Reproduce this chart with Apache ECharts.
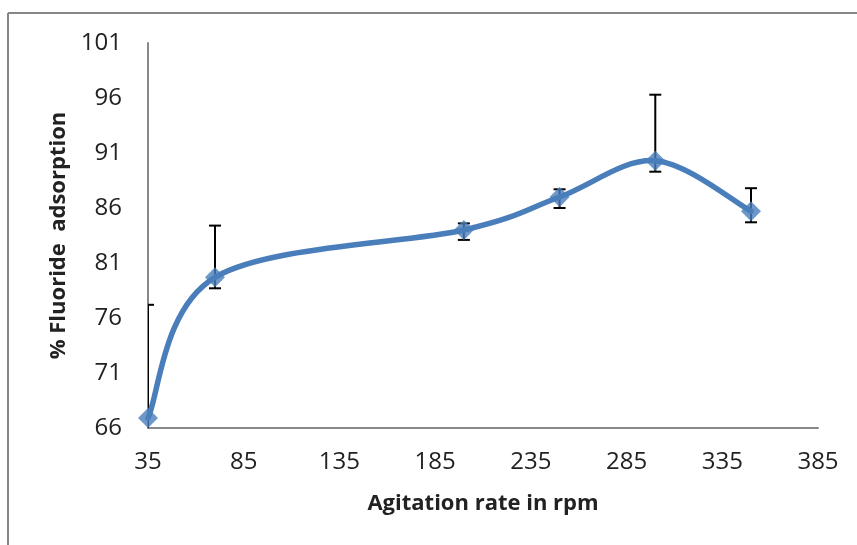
<!DOCTYPE html>
<html>
<head>
<meta charset="utf-8">
<script src="https://cdn.jsdelivr.net/npm/echarts@6/dist/echarts.min.js"></script>
<style>
html,body{margin:0;padding:0;background:#fff;}
#chart{width:857px;height:545px;}
</style>
</head>
<body>
<div id="chart"></div>
<script>
var rpm = [35, 70, 200, 250, 300, 350];
var adsorption = [66.9, 79.7, 84.0, 87.0, 90.3, 85.7];
var errUpper = [77.2, 84.4, 84.6, 87.7, 96.3, 87.8];
var errLower = [56.8, 78.7, 83.1, 86.0, 89.3, 84.7];
var xTicks = [35, 85, 135, 185, 235, 285, 335, 385];
var yTicks = [66, 71, 76, 81, 86, 91, 96, 101];

var FONT = '"Open Sans", "Noto Sans", sans-serif';
var BLUE = '#4a7ebb';
var chart = echarts.init(document.getElementById('chart'));

var errData = rpm.map(function (x, i) { return [x, errLower[i], errUpper[i]]; });
var pointData = rpm.map(function (x, i) { return [x, adsorption[i]]; });

// Smooth curve (Catmull-Rom style Bezier, like spreadsheet "smoothed line"),
// points projected through the chart's own axes via api.coord.
function renderCurve(params, api) {
  if (params.dataIndex !== 0) return null;
  var pts = rpm.map(function (x, i) { return api.coord([x, adsorption[i]]); });
  var n = pts.length;
  var path = 'M' + pts[0][0] + ' ' + pts[0][1];
  for (var i = 0; i < n - 1; i++) {
    var p0 = pts[Math.max(i - 1, 0)];
    var p1 = pts[i];
    var p2 = pts[i + 1];
    var p3 = pts[Math.min(i + 2, n - 1)];
    var c1x = p1[0] + (p2[0] - p0[0]) / 6;
    var c1y = p1[1] + (p2[1] - p0[1]) / 6;
    var c2x = p2[0] - (p3[0] - p1[0]) / 6;
    var c2y = p2[1] - (p3[1] - p1[1]) / 6;
    path += ' C' + c1x + ' ' + c1y + ' ' + c2x + ' ' + c2y + ' ' + p2[0] + ' ' + p2[1];
  }
  return {
    type: 'path',
    shape: { pathData: path },
    style: { fill: null, stroke: BLUE, lineWidth: 5.5, lineCap: 'round', lineJoin: 'round' }
  };
}

chart.setOption({
  animation: false,
  backgroundColor: '#fff',
  graphic: [
    { type: 'line', shape: { x1: 8, y1: 13, x2: 857, y2: 13 }, style: { stroke: '#878787', lineWidth: 2 } },
    { type: 'line', shape: { x1: 8, y1: 13, x2: 8, y2: 545 }, style: { stroke: '#878787', lineWidth: 2 } }
  ],
  grid: { left: 148, right: 39, top: 43, bottom: 117 },
  xAxis: {
    type: 'value',
    min: xTicks[0], max: xTicks[xTicks.length - 1], interval: 50,
    name: 'Agitation rate in rpm',
    nameLocation: 'middle', nameGap: 65,
    nameTextStyle: { fontFamily: FONT, fontSize: 22, fontWeight: 'bold', color: '#222' },
    axisLine: { show: true, lineStyle: { color: '#888', width: 2 } },
    axisTick: { show: false },
    splitLine: { show: false },
    axisLabel: { fontFamily: FONT, fontSize: 24, color: '#222', margin: 22 }
  },
  yAxis: {
    type: 'value',
    min: yTicks[0], max: yTicks[yTicks.length - 1], interval: 5,
    name: '% Fluoride  adsorption',
    nameLocation: 'middle', nameGap: 72,
    nameTextStyle: { fontFamily: FONT, fontSize: 22, fontWeight: 'bold', color: '#222' },
    axisLine: { show: true, lineStyle: { color: '#888', width: 2 } },
    axisTick: { show: false },
    splitLine: { show: false },
    axisLabel: { fontFamily: FONT, fontSize: 24, color: '#222', margin: 26 }
  },
  series: [
    {
      type: 'custom',
      data: errData,
      clip: true,
      z: 1,
      renderItem: function (params, api) {
        var x = api.value(0);
        var lo = api.coord([x, api.value(1)]);
        var hi = api.coord([x, api.value(2)]);
        var cw = 6;
        var style = { stroke: '#000', lineWidth: 2 };
        return {
          type: 'group',
          children: [
            { type: 'line', shape: { x1: lo[0], y1: lo[1], x2: hi[0], y2: hi[1] }, style: style },
            { type: 'line', shape: { x1: hi[0] - cw, y1: hi[1], x2: hi[0] + cw, y2: hi[1] }, style: style },
            { type: 'line', shape: { x1: lo[0] - cw, y1: lo[1], x2: lo[0] + cw, y2: lo[1] }, style: style }
          ]
        };
      }
    },
    {
      type: 'custom',
      data: pointData,
      clip: false,
      z: 2,
      renderItem: renderCurve
    },
    {
      type: 'scatter',
      data: pointData,
      z: 3,
      symbol: 'diamond',
      symbolSize: 20,
      clip: false,
      itemStyle: { color: BLUE }
    }
  ]
});
</script>
</body>
</html>
